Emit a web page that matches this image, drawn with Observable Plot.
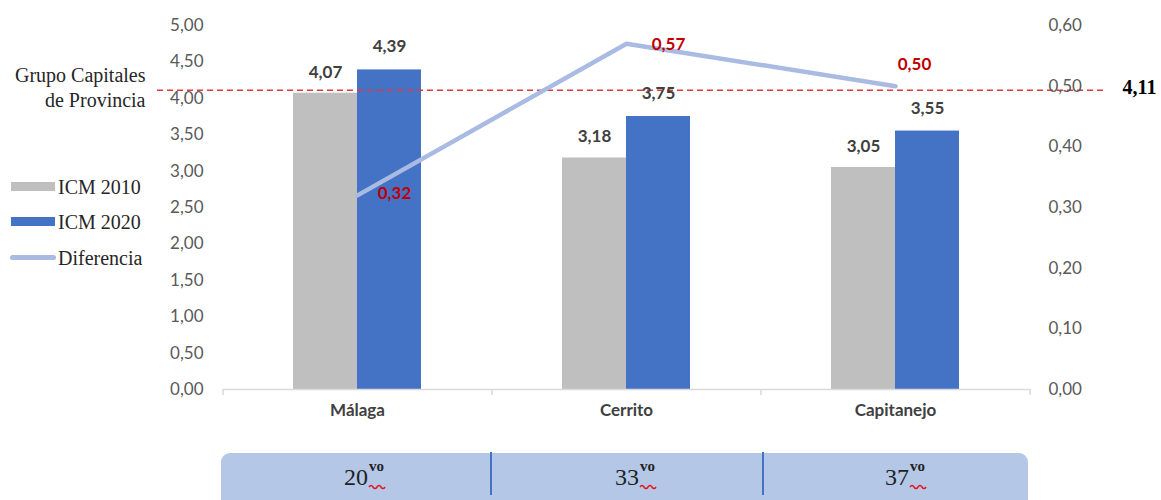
<!DOCTYPE html>
<html>
<head>
<meta charset="utf-8">
<script src="https://cdn.jsdelivr.net/npm/d3@7"></script>
<script src="https://cdn.jsdelivr.net/npm/@observablehq/plot@0.6"></script>
<style>
  body { margin: 0; background: #fff; }
  #wrap { position: relative; width: 1161px; height: 500px; overflow: hidden; font-family: "Liberation Serif", "Times New Roman", serif; }
  #wrap > svg { position: absolute; left: 0; top: 0; }
  .lg { position: absolute; font-size: 20px; line-height: 20px; color: #262626; white-space: nowrap; }
  .sw { position: absolute; }
  #table { position: absolute; left: 221px; top: 453px; width: 807px; height: 60px; background: #b4c7e7; border-radius: 9px; }
  .div { position: absolute; top: -1px; width: 2px; height: 43px; background: #4472c4; }
  .num { position: absolute; top: 12px; font-size: 24px; line-height: 1; color: #222; transform: translateX(-50%); }
  .sup { position: absolute; left: 100%; top: -6px; font-size: 15px; line-height: 1; font-weight: bold; margin-left: 1px; }
  #wrap svg.wave { position: absolute; left: 100%; top: 19px; margin-left: 0px; }
</style>
</head>
<body>
<div id="wrap"></div>
<script>
// ---- data ----
const categories = ["Málaga", "Cerrito", "Capitanejo"];
const icm2010 = [4.07, 3.18, 3.05];
const icm2020 = [4.39, 3.75, 3.55];
const diferencia = [0.32, 0.57, 0.50];
const ranks = ["20", "33", "37"];
const rankSuffix = "vo";
const groupAverage = 4.11;
const groupLabel = "Grupo Capitales\nde Provincia";
const seriesNames = ["ICM 2010", "ICM 2020", "Diferencia"];
const leftTicks = [0, 0.5, 1, 1.5, 2, 2.5, 3, 3.5, 4, 4.5, 5];
const rightTicks = [0, 0.1, 0.2, 0.3, 0.4, 0.5, 0.6];
const leftMax = 5, rightMax = 0.6;

// ---- helpers ----
const colors = { g2010: "#bfbfbf", g2020: "#4472c4", diff: "#a9bbe2", red: "#c00000", dash: "#e0393e", tick: "#595959", label: "#404040" };
const k = leftMax / rightMax; // right axis -> left axis
const fmt = d => d3.format(".2f")(d).replace(".", ",");
const rows2010 = categories.map((c, i) => ({ cat: c, v: icm2010[i] }));
const rows2020 = categories.map((c, i) => ({ cat: c, v: icm2020[i] }));
const rowsDiff = categories.map((c, i) => ({ cat: c, v: diferencia[i] }));
const sans = "Lato, 'Open Sans', sans-serif";
const serif = "'Liberation Serif', 'Times New Roman', serif";

const half = 64;
const halfStep = 134.5;

const chart = Plot.plot({
  width: 1161,
  height: 500,
  marginLeft: 223,
  marginRight: 131,
  marginTop: 25,
  marginBottom: 111,
  style: { background: "transparent", fontFamily: sans, overflow: "visible" },
  x: { domain: categories, paddingInner: 0.524, paddingOuter: 0.262, axis: null },
  y: { domain: [0, leftMax], axis: null },
  marks: [
    Plot.barY(rows2010, { x: "cat", y: "v", fill: colors.g2010, insetRight: half }),
    Plot.barY(rows2020, { x: "cat", y: "v", fill: colors.g2020, insetLeft: half }),
    Plot.ruleY([0], { stroke: "#d9d9d9", strokeWidth: 1.5 }),
    // category separator ticks
    Plot.ruleX(categories, { x: d => d, y1: 0, y2: 0, dx: -halfStep, insetBottom: -6, stroke: "#d9d9d9", strokeWidth: 1.5 }),
    Plot.ruleX(categories.slice(-1), { x: d => d, y1: 0, y2: 0, dx: halfStep, insetBottom: -6, stroke: "#d9d9d9", strokeWidth: 1.5 }),
    Plot.ruleY([groupAverage], { stroke: colors.dash, strokeWidth: 1.5, strokeDasharray: "6,4", insetLeft: -66, insetRight: -75 }),
    Plot.line(rowsDiff, { x: "cat", y: d => d.v * k, stroke: colors.diff, strokeWidth: 4.5, strokeLinejoin: "round", strokeLinecap: "round" }),
    // left axis labels
    Plot.text(leftTicks, { y: d => d, frameAnchor: "left", dx: -20, textAnchor: "end", text: fmt, fill: colors.tick, fontSize: 17, fontFamily: sans }),
    // right axis labels
    Plot.text(rightTicks, { y: d => d * k, frameAnchor: "right", dx: 18, textAnchor: "start", text: fmt, fill: colors.tick, fontSize: 17, fontFamily: sans }),
    // category labels
    Plot.text(categories, { x: d => d, frameAnchor: "bottom", dy: 26, text: d => d, fill: colors.label, fontWeight: "bold", fontSize: 17, fontFamily: sans }),
    // bar value labels
    Plot.text(rows2010, { x: "cat", y: "v", dx: -32, dy: -21, text: d => fmt(d.v), fill: colors.label, fontWeight: "bold", fontSize: 17, fontFamily: sans }),
    Plot.text(rows2020, { x: "cat", y: "v", dx: 32, dy: -23, text: d => fmt(d.v), fill: colors.label, fontWeight: "bold", fontSize: 17, fontFamily: sans }),
    // difference labels
    Plot.text(rowsDiff.slice(0, 1), { x: "cat", y: d => d.v * k, dx: 37, dy: -2, text: d => fmt(d.v), fill: colors.red, fontWeight: "bold", fontSize: 17, fontFamily: sans }),
    Plot.text(rowsDiff.slice(1, 2), { x: "cat", y: d => d.v * k, dx: 42, dy: 1, text: d => fmt(d.v), fill: colors.red, fontWeight: "bold", fontSize: 17, fontFamily: sans }),
    Plot.text(rowsDiff.slice(2, 3), { x: "cat", y: d => d.v * k, dx: 19, dy: -22, text: d => fmt(d.v), fill: colors.red, fontWeight: "bold", fontSize: 17, fontFamily: sans }),
    // group average labels
    Plot.text([groupAverage], { y: d => d, frameAnchor: "right", dx: 92, textAnchor: "start", text: fmt, fill: "#000", fontWeight: "bold", fontSize: 20, fontFamily: serif, dy: -3 }),
    Plot.text([groupLabel], { y: () => groupAverage, frameAnchor: "left", dx: -78, dy: -4, textAnchor: "end", text: d => d, lineHeight: 1.25, fill: "#262626", fontSize: 20, fontFamily: serif })
  ]
});

const wrap = document.getElementById("wrap");
wrap.appendChild(chart);

// legend
const legend = [
  { name: seriesNames[0], color: colors.g2010, type: "bar", cy: 187 },
  { name: seriesNames[1], color: colors.g2020, type: "bar", cy: 222 },
  { name: seriesNames[2], color: colors.diff, type: "line", cy: 258 }
];
legend.forEach(l => {
  const sw = document.createElement("div");
  sw.className = "sw";
  if (l.type === "bar") {
    Object.assign(sw.style, { left: "11px", top: (l.cy - 5) + "px", width: "44px", height: "9px", background: l.color });
  } else {
    Object.assign(sw.style, { left: "10px", top: (l.cy - 3) + "px", width: "46px", height: "5px", background: l.color, borderRadius: "3px" });
  }
  wrap.appendChild(sw);
  const t = document.createElement("div");
  t.className = "lg";
  t.textContent = l.name;
  Object.assign(t.style, { left: "58px", top: (l.cy - 10) + "px" });
  wrap.appendChild(t);
});

// rank table
const table = document.createElement("div");
table.id = "table";
const colCenters = [135, 406, 676];
const dividers = [270, 542];
dividers.forEach(x => {
  const d = document.createElement("div");
  d.className = "div";
  d.style.left = (x - 1) + "px";
  table.appendChild(d);
});
ranks.forEach((r, i) => {
  const n = document.createElement("span");
  n.className = "num";
  n.style.left = colCenters[i] + "px";
  n.textContent = r;
  const s = document.createElement("span");
  s.className = "sup";
  s.textContent = rankSuffix;
  n.appendChild(s);
  const w = document.createElementNS("http://www.w3.org/2000/svg", "svg");
  w.setAttribute("class", "wave");
  w.setAttribute("width", "18");
  w.setAttribute("height", "6");
  w.innerHTML = '<path d="M1 3 q2 -3 4 0 t4 0 t4 0 t4 0" fill="none" stroke="#e8141c" stroke-width="1.5"/>';
  n.appendChild(w);
  table.appendChild(n);
});
wrap.appendChild(table);
</script>
</body>
</html>
